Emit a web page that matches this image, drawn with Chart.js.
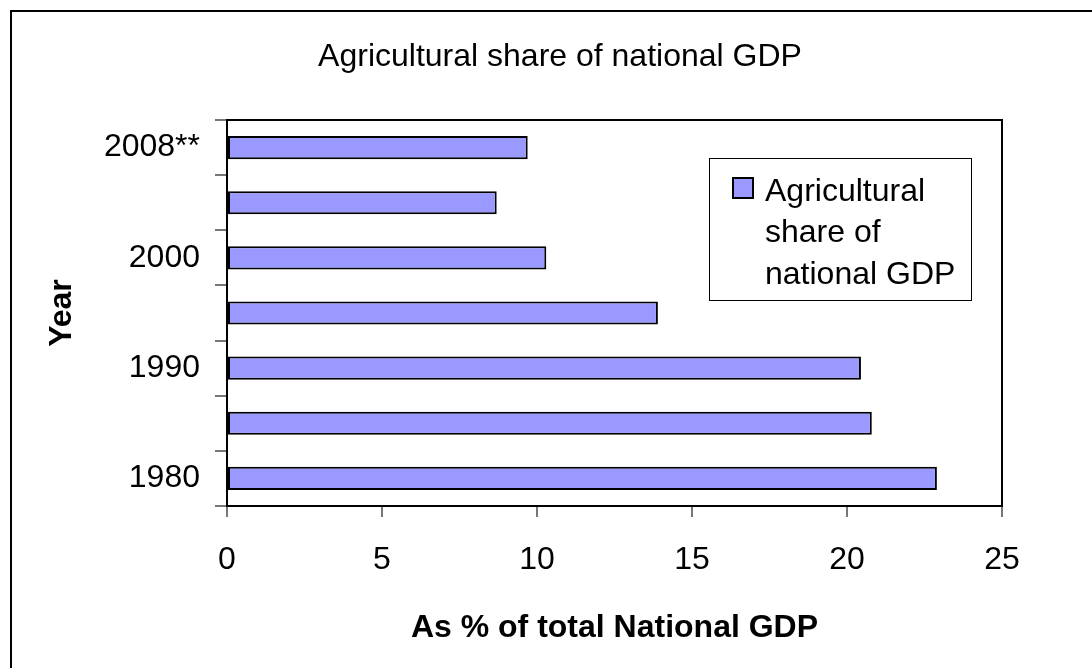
<!DOCTYPE html>
<html>
<head>
<meta charset="utf-8">
<script src="https://cdn.jsdelivr.net/npm/chart.js@4"></script>
<style>
  body { margin: 0; background: #fff; }
  #wrap { width: 1092px; height: 668px; }
</style>
</head>
<body>
<div id="wrap"><canvas id="agriChart"></canvas></div>
<script>
// datos
const years = ['1980', '1985', '1990', '1995', '2000', '2005', '2008**'];
const agriShare = [22.9, 20.8, 20.45, 13.9, 10.3, 8.7, 9.7];
const xTickValues = [0, 5, 10, 15, 20, 25];
const seriesName = 'Agricultural share of national GDP';
const legendLines = ['Agricultural', 'share of', 'national GDP'];
const chartTitle = 'Agricultural share of national GDP';
const xTitle = 'As % of total National GDP';
const yTitle = 'Year';

const FONT = "'Liberation Sans', Arial, sans-serif";
Chart.defaults.font.family = FONT;
Chart.defaults.font.size = 32;
Chart.defaults.color = '#000';

// Marco exterior, titulo y leyenda (estilo Excel)
const frame = {
    id: 'frame',
    beforeDraw(chart) {
        const ctx = chart.ctx;
        ctx.save();
        ctx.fillStyle = '#fff';
        ctx.fillRect(0, 0, chart.width, chart.height);
        ctx.strokeStyle = '#000';
        ctx.lineWidth = 2;
        ctx.beginPath();
        ctx.moveTo(11, chart.height);
        ctx.lineTo(11, 11);
        ctx.lineTo(chart.width, 11);
        ctx.stroke();
        ctx.restore();
    },
    afterDraw(chart) {
        const { ctx, chartArea: a } = chart;
        ctx.save();
        ctx.strokeStyle = '#000';
        ctx.lineWidth = 2;
        ctx.beginPath();
        ctx.moveTo(a.left, a.top);
        ctx.lineTo(a.right, a.top);
        ctx.lineTo(a.right, a.bottom);
        ctx.stroke();

        ctx.fillStyle = '#000';
        ctx.font = '32px ' + FONT;
        ctx.textAlign = 'center';
        ctx.textBaseline = 'alphabetic';
        ctx.fillText(chartTitle, 560, 66);

        // leyenda dentro del area
        ctx.lineWidth = 1;
        ctx.strokeRect(709.5, 158.5, 262, 142);
        const ds = chart.data.datasets[0];
        ctx.fillStyle = ds.backgroundColor;
        ctx.fillRect(733, 178, 20, 20);
        ctx.lineWidth = 2;
        ctx.strokeRect(733, 178, 20, 20);
        ctx.fillStyle = '#000';
        ctx.textAlign = 'left';
        legendLines.forEach((t, i) => ctx.fillText(t, 765, 201 + i * 41.3));
        ctx.restore();
    }
};

function createAgriChart() {
    const ctx = document.getElementById('agriChart').getContext('2d');
    new Chart(ctx, {
        type: 'bar',
        data: {
            labels: years,
            datasets: [{
                label: seriesName,
                data: agriShare,
                backgroundColor: '#9999ff',
                borderColor: '#000',
                borderWidth: 2,
                borderSkipped: false,
                barPercentage: 0.42,
                categoryPercentage: 1
            }]
        },
        options: {
            indexAxis: 'y',
            responsive: true,
            maintainAspectRatio: false,
            animation: false,
            layout: { padding: { left: 0, right: 90, top: 120, bottom: 20.8 } },
            plugins: {
                legend: { display: false },
                title: { display: false },
                tooltip: { enabled: false }
            },
            scales: {
                x: {
                    min: 0,
                    max: 25,
                    afterBuildTicks: s => { s.ticks = xTickValues.map(v => ({ value: v })); },
                    grid: { drawOnChartArea: false, tickLength: 11, color: '#777', lineWidth: 2 },
                    border: { color: '#000', width: 2 },
                    ticks: { padding: 23.5, maxRotation: 0 },
                    title: { display: true, text: xTitle, font: { weight: 'bold' }, padding: { top: 0, bottom: 0 } },
                    afterFit: s => { s.height = 141.2; }
                },
                y: {
                    reverse: true,
                    grid: { drawOnChartArea: false, tickLength: 12, color: '#777', lineWidth: 2, offset: true },
                    border: { color: '#000', width: 2 },
                    ticks: {
                        padding: 15,
                        autoSkip: false,
                        callback: (v, i) => (i % 2 === 0 ? years[v] : '')
                    },
                    title: { display: true, text: yTitle, font: { weight: 'bold' }, padding: { top: 42.8, bottom: 0 } },
                    afterFit: s => { s.width = 227; }
                }
            }
        },
        plugins: [frame]
    });
}

document.addEventListener('DOMContentLoaded', createAgriChart);
</script>
</body>
</html>
